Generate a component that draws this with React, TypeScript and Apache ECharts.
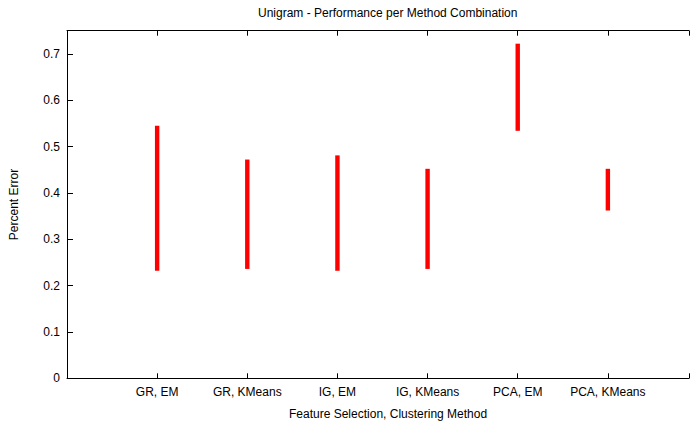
import React, { useEffect, useRef } from "react";
import * as echarts from "echarts";

const categories = ["GR, EM", "GR, KMeans", "IG, EM", "IG, KMeans", "PCA, EM", "PCA, KMeans"];
const lowValues = [0.232, 0.236, 0.232, 0.236, 0.534, 0.362];
const highValues = [0.545, 0.472, 0.481, 0.452, 0.722, 0.452];
const yTickLabels = ["0", "0.1", "0.2", "0.3", "0.4", "0.5", "0.6", "0.7"];

export default function App() {
  const ref = useRef<HTMLDivElement>(null);
  useEffect(() => {
    if (!ref.current) return;
    const chart = echarts.init(ref.current, null, { renderer: "svg" });
    const data = categories.map((c, i) => [i + 1, lowValues[i], highValues[i]]);
    const font = "'Liberation Sans', Arial, sans-serif";
    const axisColor = "#000";
    chart.setOption({
      animation: false,
      backgroundColor: "#fff",
      title: [
        {
          text: "Unigram - Performance per Method Combination",
          left: 253,
          top: 2,
          textStyle: { fontFamily: font, fontSize: 12, fontWeight: "normal", color: "#000" },
        },
        {
          text: "Feature Selection, Clustering Method",
          left: 284,
          top: 403,
          textStyle: { fontFamily: font, fontSize: 12, fontWeight: "normal", color: "#000" },
        },
      ],
      grid: { left: 62.5, right: 0, top: 30.7, bottom: 45.7 },
      xAxis: [
        {
          type: "value",
          min: 0,
          max: 6.9,
          interval: 1,
          position: "bottom",
          splitLine: { show: false },
          axisLine: { show: true, lineStyle: { color: axisColor, width: 1 } },
          axisTick: { show: true, inside: true, length: 5, lineStyle: { color: axisColor } },
          axisLabel: {
            margin: 8,
            fontFamily: font,
            fontSize: 12,
            color: "#000",
            formatter: (v: number) => {
              const i = Math.round(v);
              if (Math.abs(v - i) > 1e-6 || i < 1 || i > categories.length) return "";
              return categories[i - 1];
            },
          },
        },
        {
          type: "value",
          min: 0,
          max: 6.9,
          interval: 1,
          position: "top",
          splitLine: { show: false },
          axisLine: { show: true, lineStyle: { color: axisColor, width: 1 } },
          axisTick: { show: true, inside: true, length: 5, lineStyle: { color: axisColor } },
          axisLabel: { show: false },
        },
      ],
      yAxis: {
        type: "value",
        min: 0,
        max: 0.75,
        interval: 0.1,
        name: "Percent Error",
        nameLocation: "middle",
        nameGap: 47,
        nameRotate: 90,
        nameTextStyle: { fontFamily: font, fontSize: 12, color: "#000" },
        splitLine: { show: false },
        axisLine: { show: true, lineStyle: { color: axisColor, width: 1 } },
        axisTick: { show: true, inside: true, length: 6, lineStyle: { color: axisColor } },
        axisLabel: {
          margin: 7,
          showMaxLabel: false,
          fontFamily: font,
          fontSize: 12,
          color: "#000",
          formatter: (v: number) => {
            const i = Math.round(v * 10);
            if (Math.abs(v * 10 - i) > 1e-6) return "";
            return yTickLabels[i] ?? "";
          },
        },
      },
      series: [
        {
          type: "custom",
          xAxisIndex: 0,
          yAxisIndex: 0,
          data,
          encode: { x: 0, y: [1, 2] },
          renderItem: (params: any, api: any) => {
            const x = api.value(0);
            const lo = api.coord([x, api.value(1)]);
            const hi = api.coord([x, api.value(2)]);
            const w = 4.4;
            return {
              type: "rect",
              shape: { x: lo[0] - w / 2, y: hi[1], width: w, height: lo[1] - hi[1] },
              style: { fill: "#ff0000" },
            };
          },
        },
      ],
    });
    return () => chart.dispose();
  }, []);
  return (
    <div
      ref={ref}
      style={{ position: "fixed", left: 0, top: 0, width: 692, height: 424, background: "#fff" }}
    />
  );
}
